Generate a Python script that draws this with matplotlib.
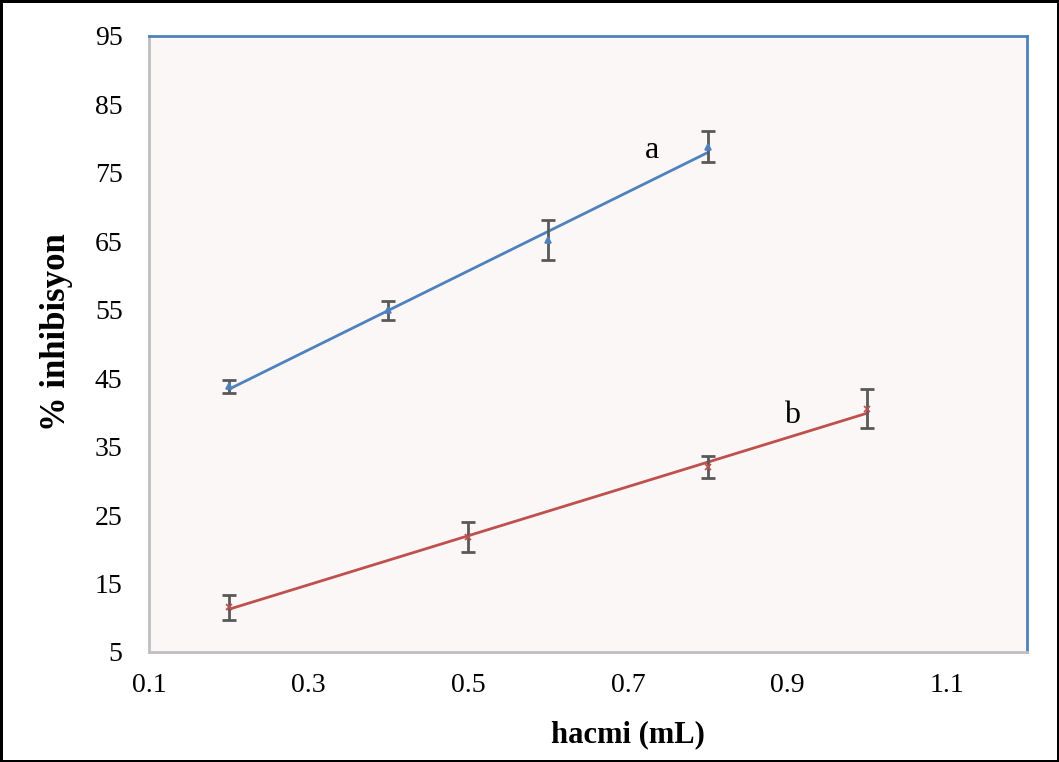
import numpy as np
import matplotlib
matplotlib.use("Agg")
import matplotlib.pyplot as plt

# series a (blue)
x_a = [0.2, 0.4, 0.6, 0.8]
y_a = [43.8, 54.9, 65.2, 78.8]
err_a = [1.0, 1.45, 2.95, 2.25]

# series b (red)
x_b = [0.2, 0.5, 0.8, 1.0]
y_b = [11.5, 21.85, 32.0, 40.5]
err_b = [1.8, 2.2, 1.6, 2.85]

xticks = [0.1, 0.3, 0.5, 0.7, 0.9, 1.1]
yticks = [5, 15, 25, 35, 45, 55, 65, 75, 85, 95]

blue = "#4F81BD"
red = "#C0504D"
errc = "#595959"

plt.rcParams['font.family'] = ['Liberation Serif', 'DejaVu Serif']

fig = plt.figure(figsize=(10.59, 7.62), dpi=100)
fig.patch.set_facecolor("white")
fig.patch.set_edgecolor("black")
fig.patch.set_linewidth(2.5)

ax = fig.add_axes([0.1407, 0.1444, 0.8291, 0.8084])
ax.set_facecolor("#FBF7F7")

for xs, ys, es, col, mk in [(x_a, y_a, err_a, blue, "^"), (x_b, y_b, err_b, red, "x")]:
    # linear trendline through the points
    k, b = np.polyfit(xs, ys, 1)
    xl = np.array([min(xs), max(xs)])
    ax.plot(xl, k * xl + b, color=col, lw=2, zorder=2)
    ax.errorbar(xs, ys, yerr=es, fmt="none", ecolor=errc, elinewidth=2,
                capsize=5, capthick=2, zorder=3)
    ax.plot(xs, ys, ls="none", marker=mk, ms=4, mew=1.2, color=col, zorder=4)

ax.text(0.73, 77.2, "a", fontsize=23, ha="center", va="baseline")
ax.text(0.905, 38.5, "b", fontsize=23, ha="center", va="baseline")

ax.set_xlim(0.1, 1.2)
ax.set_ylim(5, 95)
ax.set_xticks(xticks)
ax.set_xticklabels([str(t) for t in xticks])
ax.set_yticks(yticks)
ax.tick_params(length=0, labelsize=20)
ax.tick_params(axis="y", pad=19)
ax.tick_params(axis="x", pad=15)

ax.spines["top"].set_color(blue)
ax.spines["right"].set_color(blue)
ax.spines["left"].set_color("#BFBFBF")
ax.spines["bottom"].set_color("#BFBFBF")
for s in ax.spines.values():
    s.set_linewidth(2)

ax.set_ylabel("% inhibisyon", fontsize=25, fontweight="bold")
ax.yaxis.set_label_coords(-0.086, 0.52)
fig.text(628 / 1059, 1 - 735 / 762, "hacmi (mL)", fontsize=22, fontweight="bold",
         ha="center", va="center")

fig.savefig("out.png", dpi=100, facecolor=fig.get_facecolor(), edgecolor=fig.get_edgecolor())
